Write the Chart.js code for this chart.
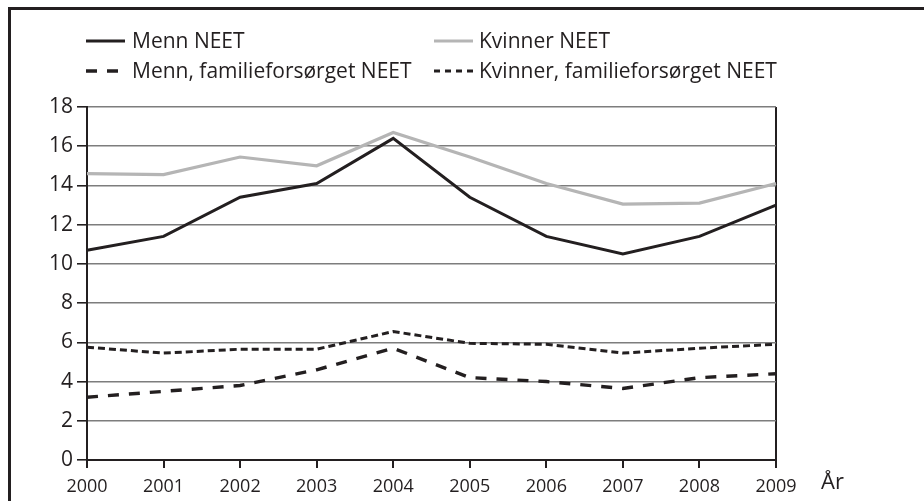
<!DOCTYPE html>
<html>
<head>
<meta charset="utf-8">
<script src="https://cdn.jsdelivr.net/npm/chart.js@4.4.1/dist/chart.umd.min.js"></script>
<style>
  html, body { margin:0; padding:0; background:#fff; }
  body { width:924px; height:501px; position:relative; overflow:hidden; font-family:"Open Sans", sans-serif; color:#231f20; }
  #frame { position:absolute; left:8px; top:7px; width:1000px; height:1000px; border-left:3px solid #231f20; border-top:3px solid #231f20; }
  #wrap { position:absolute; left:0; top:0; width:924px; height:501px; }
  .leg { position:absolute; font-size:21px; line-height:24px; white-space:nowrap; }
  .leg svg { position:absolute; }
  #aar { position:absolute; left:821px; top:465px; font-size:22px; }
</style>
</head>
<body>
<div id="frame"></div>
<div id="wrap"><canvas id="c" width="924" height="501"></canvas></div>
<div id="legend"></div>
<div id="aar">År</div>
<script>
const years = ['2000','2001','2002','2003','2004','2005','2006','2007','2008','2009'];
const mennNEET = [10.7, 11.4, 13.4, 14.1, 16.4, 13.4, 11.4, 10.5, 11.4, 13.0];
const kvinnerNEET = [14.6, 14.55, 15.45, 15.0, 16.7, 15.45, 14.1, 13.05, 13.1, 14.1];
const mennFam = [3.2, 3.5, 3.8, 4.6, 5.7, 4.2, 4.0, 3.65, 4.2, 4.4];
const kvinnerFam = [5.75, 5.45, 5.65, 5.65, 6.55, 5.95, 5.9, 5.45, 5.7, 5.9];
const yTicks = [0, 2, 4, 6, 8, 10, 12, 14, 16, 18];
const seriesNames = ['Menn NEET', 'Kvinner NEET', 'Menn, familieforsørget NEET', 'Kvinner, familieforsørget NEET'];

const DARK = '#231f20';
const GRAY = '#b5b5b5';
const styles = [
  { color: DARK, width: 3, dash: [] },
  { color: GRAY, width: 3.2, dash: [] },
  { color: DARK, width: 3.4, dash: [11, 10] },
  { color: DARK, width: 3, dash: [7, 4] }
];

// HTML legend
const legPos = [
  { x: 86, y: 28 }, { x: 434, y: 28 },
  { x: 86, y: 58 }, { x: 434, y: 58 }
];
const legend = document.getElementById('legend');
seriesNames.forEach((name, i) => {
  const s = styles[i];
  const d = document.createElement('div');
  d.className = 'leg';
  d.style.left = legPos[i].x + 'px';
  d.style.top = legPos[i].y + 'px';
  const sw = 40;
  d.innerHTML = '<svg width="' + sw + '" height="24" style="left:0;top:0"><line x1="0" y1="13" x2="' + (i === 2 ? 32 : 39) + '" y2="13" stroke="' + s.color + '" stroke-width="' + s.width + '" stroke-dasharray="' + (s.dash.length ? (i === 2 ? '11 10' : '6 5') : 'none') + '"/></svg>' +
    '<span style="position:absolute;left:' + (i % 2 === 0 ? 46 : 45) + 'px;top:0">' + name + '</span>';
  legend.appendChild(d);
});

const datasets = [mennNEET, kvinnerNEET, mennFam, kvinnerFam].map((arr, i) => ({
  label: seriesNames[i],
  data: arr,
  borderColor: styles[i].color,
  borderWidth: styles[i].width,
  borderDash: styles[i].dash,
  borderCapStyle: 'butt',
  borderJoinStyle: 'miter',
  pointRadius: 0,
  tension: 0,
  fill: false,
  order: i === 1 ? 5 : i
}));

function draw() {
  new Chart(document.getElementById('c'), {
    type: 'line',
    data: { labels: years, datasets },
    options: {
      responsive: false,
      animation: false,
      devicePixelRatio: 1,
      layout: { padding: { left: 0, top: 107, right: 148, bottom: 0 } },
      plugins: { legend: { display: false }, tooltip: { enabled: false } },
      scales: {
        x: {
          type: 'category',
          offset: false,
          grid: {
            color: ctx => ctx.index === years.length - 1 ? DARK : 'rgba(0,0,0,0)',
            lineWidth: 2,
            tickColor: DARK,
            tickLength: 8,
            drawTicks: true
          },
          border: { display: true, color: DARK, width: 2 },
          ticks: { color: DARK, font: { family: 'Open Sans', size: 18 }, padding: 8, maxRotation: 0, autoSkip: false },
          afterFit: s => { s.height = 41; }
        },
        y: {
          min: 0, max: 18,
          afterBuildTicks: s => { s.ticks = yTicks.map(v => ({ value: v })); },
          grid: { color: '#7d7d7d', lineWidth: 1.6, tickColor: DARK, tickLength: 10 },
          border: { display: true, color: DARK, width: 2 },
          ticks: { color: DARK, font: { family: 'Open Sans', size: 21 }, padding: 4 },
          afterFit: s => { s.width = 87; }
        }
      }
    }
  });
}
if (document.fonts && document.fonts.load) {
  Promise.all([document.fonts.load('21px "Open Sans"'), document.fonts.load('18px "Open Sans"')]).then(draw, draw);
} else { draw(); }
</script>
</body>
</html>
